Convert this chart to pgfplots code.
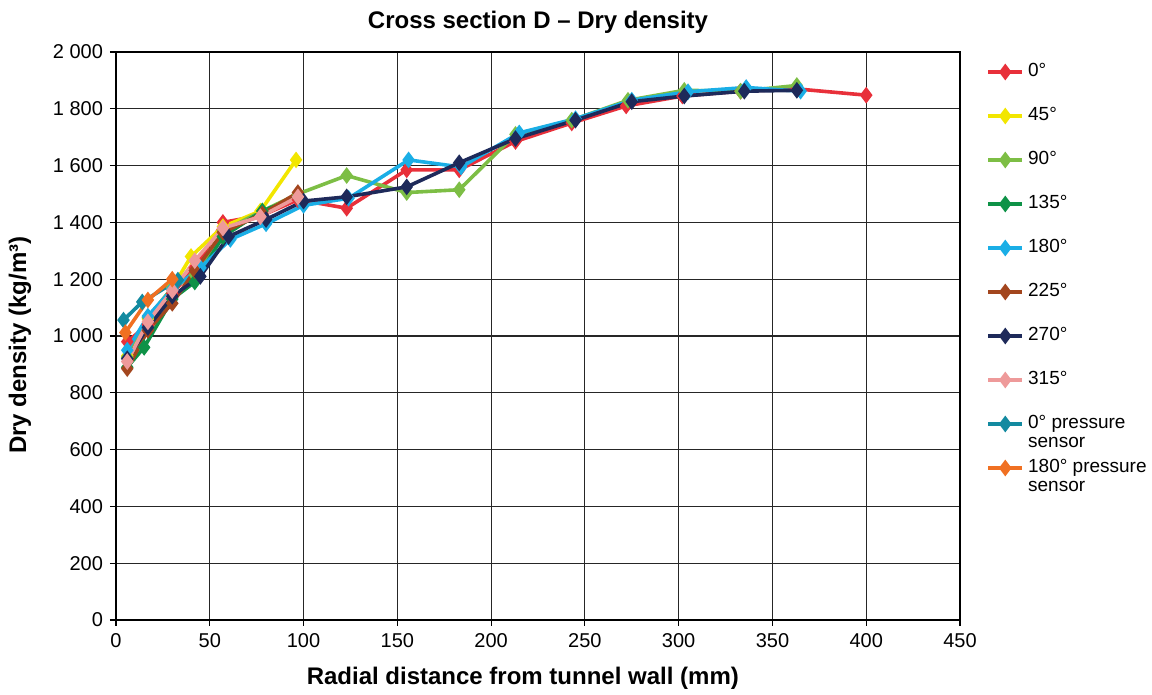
\documentclass[border=0pt]{standalone}
\usepackage{pgfplots}
\pgfplotsset{compat=1.18}
\usepackage{fontspec}
\setmainfont{Liberation Sans}
\definecolor{c0}{HTML}{E8303A}
\definecolor{c45}{HTML}{F2E600}
\definecolor{c90}{HTML}{7DBE45}
\definecolor{c135}{HTML}{0E9247}
\definecolor{c180}{HTML}{1AAEE6}
\definecolor{c225}{HTML}{A3461E}
\definecolor{c270}{HTML}{1E2A5A}
\definecolor{c315}{HTML}{EE9A9A}
\definecolor{cps0}{HTML}{138AA0}
\definecolor{cps180}{HTML}{F07022}
\begin{document}
\begin{tikzpicture}
\begin{axis}[
  width=422pt, height=284pt, scale only axis,
  xmin=0, xmax=450, ymin=0, ymax=2000,
  xtick={0,50,...,450}, ytick={0,200,...,2000},
  xtick pos=bottom, ytick pos=left,
  grid=major,
  major grid style={black!85, line width=0.6pt},
  axis line style={black, line width=0.6pt},
  tick align=outside, major tick length=3pt,
  tick style={black, line width=0.6pt},
  /pgf/number format/assume math mode=true,
  /pgf/number format/1000 sep={\ },
  ticklabel style={font=\fontsize{10}{12}\selectfont},
  title={\textbf{Cross section D – Dry density}},
  title style={at={(axis description cs:0.5,1)}, anchor=center, yshift=9pt, font=\fontsize{12}{14}\selectfont},
  xlabel={\textbf{Radial distance from tunnel wall (mm)}},
  xlabel style={at={(axis description cs:0.482,0)}, anchor=center, yshift=-29pt, font=\fontsize{12}{14}\selectfont},
  ylabel={\textbf{Dry density (kg/m³)}},
  ylabel style={at={(axis description cs:-0.1137,0.484)}, anchor=center, font=\fontsize{12}{14}\selectfont},
  legend style={at={(axis description cs:1,1)}, anchor=north west, xshift=13pt, yshift=-3.3pt,
    draw=none, fill=none, inner sep=0pt, row sep=9pt,
    font=\fontsize{9.5}{11}\selectfont,
    nodes={text height=7pt, text depth=2pt, inner sep=2pt}},
  legend cell align=left,
  every axis plot/.append style={line width=1.8pt, mark=diamond*, mark size=2.7pt, mark options={solid, line width=0.4pt}},
]
\addplot[c0, mark options={fill=c0}] coordinates {(6,980) (17,1040) (30,1150) (42,1240) (57,1400) (78,1425) (97,1480) (123,1450) (155,1585) (183,1585) (213,1685) (243,1750) (272,1810) (302,1845) (333,1862) (363,1870) (400,1848)};
\addlegendentry{0°}
\addplot[c45, mark options={fill=c45}] coordinates {(6,930) (17,1060) (30,1170) (40,1280) (57,1385) (77,1440) (96,1620)};
\addlegendentry{45°}
\addplot[c90, mark options={fill=c90}] coordinates {(6,925) (17,1065) (30,1170) (42,1215) (57,1370) (78,1440) (97,1500) (123,1565) (155,1505) (183,1515) (213,1710) (243,1760) (273,1830) (303,1865) (333,1862) (363,1882)};
\addlegendentry{90°}
\addplot[c135, mark options={fill=c135}] coordinates {(6,890) (15,960) (30,1130) (42,1190) (57,1350) (78,1440) (97,1490)};
\addlegendentry{135°}
\addplot[c180, mark options={fill=c180}] coordinates {(6,950) (17,1070) (30,1165) (45,1240) (61,1340) (80,1395) (100,1460) (124,1485) (156,1620) (184,1595) (215,1715) (245,1765) (275,1830) (305,1860) (336,1875) (365,1862)};
\addlegendentry{180°}
\addplot[c225, mark options={fill=c225}] coordinates {(6,885) (17,1020) (30,1115) (42,1230) (57,1365) (78,1430) (97,1505)};
\addlegendentry{225°}
\addplot[c270, mark options={fill=c270}] coordinates {(6,920) (17,1030) (30,1140) (45,1210) (60,1350) (80,1410) (100,1475) (123,1490) (155,1525) (183,1610) (213,1695) (245,1760) (275,1825) (303,1845) (335,1862) (363,1865)};
\addlegendentry{270°}
\addplot[c315, mark options={fill=c315}] coordinates {(6,910) (17,1050) (30,1160) (42,1265) (57,1380) (77,1420) (97,1490)};
\addlegendentry{315°}
\addplot[cps0, mark options={fill=cps0}] coordinates {(4,1056) (14,1120) (33,1197)};
\addlegendentry{\smash{\begin{tabular}[t]{@{}l@{}}0° pressure\\[-1.5pt]sensor\end{tabular}}}
\addplot[cps180, mark options={fill=cps180}] coordinates {(5,1012) (17,1127) (30,1200)};
\addlegendentry{\smash{\begin{tabular}[t]{@{}l@{}}180° pressure\\[-1.5pt]sensor\end{tabular}}}
\coordinate (O) at (rel axis cs:0,0);
\end{axis}
\pgfresetboundingbox
\path[use as bounding box] (O) ++(-58pt,-37.5pt) rectangle ++(576pt,347.5pt);
\end{tikzpicture}
\end{document}
